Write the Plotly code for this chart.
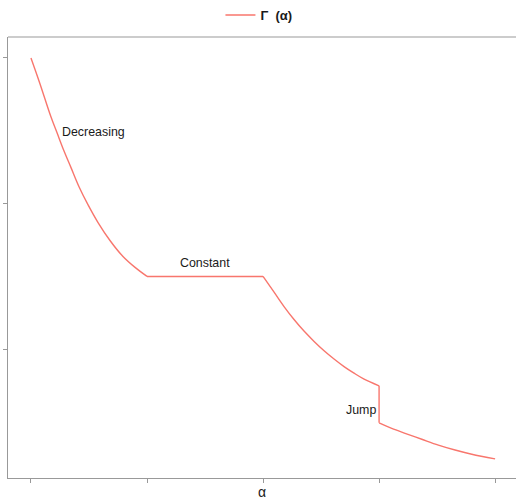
import plotly.graph_objects as go

# Data (alpha vs Gamma), by segment
seg_decreasing_alpha = [0.0, 0.078, 0.172, 0.228, 0.284, 0.345, 0.414, 0.491, 0.578, 0.681, 0.793, 0.897, 1.0]
seg_decreasing_gamma = [3.0, 2.822, 2.596, 2.479, 2.363, 2.247, 2.116, 1.993, 1.870, 1.747, 1.637, 1.562, 1.5]
seg_constant_alpha = [1.0, 2.0]
seg_constant_gamma = [1.5, 1.5]
seg_middle_alpha = [2.0, 2.095, 2.181, 2.267, 2.353, 2.440, 2.526, 2.612, 2.698, 2.784, 2.871, 3.0]
seg_middle_gamma = [1.5, 1.392, 1.293, 1.204, 1.125, 1.054, 0.990, 0.933, 0.881, 0.836, 0.795, 0.749]
seg_jump_alpha = [3.0, 3.0]
seg_jump_gamma = [0.749, 0.495]
seg_tail_alpha = [3.0, 3.109, 3.224, 3.368, 3.511, 3.655, 3.799, 4.0]
seg_tail_gamma = [0.495, 0.457, 0.423, 0.382, 0.342, 0.308, 0.279, 0.247]

x_ticks = [0, 1, 2, 3, 4]
y_ticks = [1, 2, 3]
labels = ["Decreasing", "Constant", "Jump"]
label_x = [0.54, 1.5, 2.847]
label_y = [2.49, 1.59, 0.58]

line_color = "#F8766D"
axis_color = "#999999"

segments = [
    (seg_decreasing_alpha, seg_decreasing_gamma, "spline"),
    (seg_constant_alpha, seg_constant_gamma, "linear"),
    (seg_middle_alpha, seg_middle_gamma, "spline"),
    (seg_jump_alpha, seg_jump_gamma, "linear"),
    (seg_tail_alpha, seg_tail_gamma, "spline"),
]

fig = go.Figure()
for i, (xs, ys, shape) in enumerate(segments):
    fig.add_trace(go.Scatter(x=xs, y=ys, mode="lines", name="<b>Γ  (α)</b>",
                             legendgroup="g", showlegend=(i == 0),
                             line=dict(color=line_color, width=1.4, shape=shape)))

for t, xx, yy in zip(labels, label_x, label_y):
    fig.add_annotation(x=xx, y=yy, text=t, showarrow=False,
                       font=dict(family="Liberation Sans, Arial", size=12.4, color="#1a1a1a"))

fig.add_shape(type="line", xref="paper", yref="paper", x0=0, x1=1, y0=1, y1=1,
              line=dict(color=axis_color, width=1))

fig.update_layout(
    width=516, height=500,
    margin=dict(l=8, r=0, t=36, b=22),
    paper_bgcolor="white", plot_bgcolor="white",
    font=dict(family="Liberation Sans, Arial", color="#1a1a1a"),
    showlegend=True,
    legend=dict(orientation="h", x=0.494, xanchor="center", y=1.05, yanchor="middle",
                bgcolor="rgba(0,0,0,0)",
                font=dict(size=13, color="#1a1a1a"), itemwidth=30),
    xaxis=dict(range=[-0.198, 4.18], tickvals=x_ticks, showticklabels=False,
               ticks="outside", ticklen=4, tickcolor=axis_color, showgrid=False,
               zeroline=False, showline=True, linecolor=axis_color, linewidth=1,
               title=dict(text="α", font=dict(size=14), standoff=5)),
    yaxis=dict(range=[0.116, 3.144], tickvals=y_ticks, showticklabels=False,
               ticks="outside", ticklen=4, tickcolor=axis_color, showgrid=False,
               zeroline=False, showline=True, linecolor=axis_color, linewidth=1),
)

fig.write_html("out.html", config={"displayModeBar": False},
               post_script="document.body.style.margin='0';")
